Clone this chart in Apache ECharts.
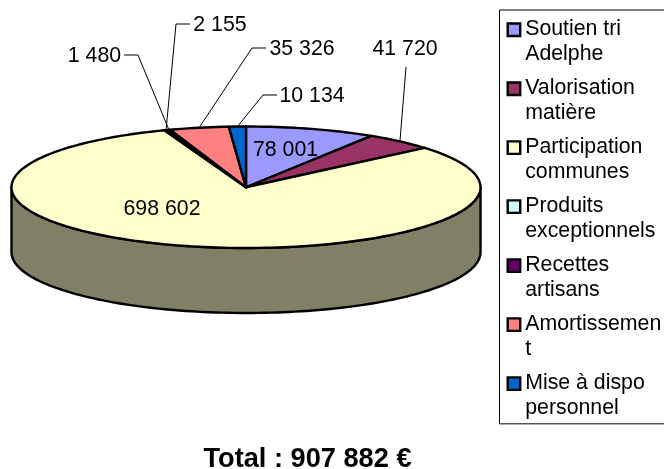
<!DOCTYPE html>
<html>
<head>
<meta charset="utf-8">
<style>html,body{margin:0;padding:0;background:#fff;overflow:hidden}#c{width:664px;height:469px}</style>
<script src="https://cdn.jsdelivr.net/npm/echarts@6/dist/echarts.min.js"></script>
</head>
<body>
<div id="c"></div>
<script>
const categories = ['Soutien tri\nAdelphe','Valorisation\nmatière','Participation\ncommunes','Produits\nexceptionnels','Recettes\nartisans','Amortissemen\nt','Mise à dispo\npersonnel'];
const values = [78001, 41720, 698602, 2155, 1480, 35326, 10134];
const valueLabels = ['78 001','41 720','698 602','2 155','1 480','35 326','10 134'];
const colors = ['#9999FF','#993366','#FFFFCC','#CCFFFF','#660066','#FF8080','#0066CC'];
const sideColors = ['#4D4D80','#4D1A33','#808066','#668080','#330033','#804040','#003366'];
const titleText = 'Total : 907 882 €';

// Label placement (pixels): text centre, optional elbow of the leader line
const labelLayout = [
  {x:285.5, y:150},
  {x:405, y:49,  from:[406,67]},
  {x:162, y:209},
  {x:220, y:25,  from:[190,24], elbow:[176,24]},
  {x:94.5,  y:56,  from:[124,55], elbow:[138,55]},
  {x:302, y:49,  from:[266,48], elbow:[252,48]},
  {x:312, y:96,  from:[277,95], elbow:[263,95]}
];
const DEPTH = 65;      // wall height of the disc, px
const FONT = 'Liberation Sans, Arial, sans-serif';

const total = values.reduce((a,b)=>a+b,0);
let acc = 0;
const spans = values.map(v => { const s = acc; acc += v; return [s/total*360, acc/total*360]; });
const rad = d => d*Math.PI/180;

function rimPoints(api, a0, a1){
  const n = Math.max(2, Math.ceil((a1-a0)/1.5));
  const pts = [];
  for(let i=0;i<=n;i++){
    const a = rad(a0+(a1-a0)*i/n);
    pts.push(api.coord([Math.sin(a), Math.cos(a)]));
  }
  return pts;
}

const series = categories.map((name,i)=>({
  type:'custom',
  name,
  coordinateSystem:'cartesian2d',
  clip:false,
  silent:true,
  itemStyle:{color:colors[i]},
  z: 2,
  data:[[0,0]],
  renderItem:(params,api)=>{
    const [a0,a1] = spans[i];
    const children = [];
    const line = {stroke:'#000', lineWidth:2.4, lineJoin:'round', fill:colors[i]};
    const f0 = Math.max(a0,90), f1 = Math.min(a1,270);
    if(f1>f0){
      const top = rimPoints(api,f0,f1);
      const bottom = top.map(p=>[p[0],p[1]+DEPTH]).reverse();
      children.push({type:'polygon',shape:{points:top.concat(bottom)},
        style:{stroke:'#000',lineWidth:2.4,lineJoin:'round',fill:sideColors[i]}});
    }
    const c = api.coord([0,0]);
    children.push({type:'polygon',shape:{points:[c].concat(rimPoints(api,a0,a1))},style:line});
    return {type:'group',children};
  }
}));

// Leader lines and value labels, anchored on each slice's mid-angle on the rim
series.push({
  type:'custom',
  name:'labels',
  coordinateSystem:'cartesian2d',
  clip:false,
  silent:true,
  z:3,
  data:[[0,0]],
  renderItem:(params,api)=>{
    const children = [];
    values.forEach((v,i)=>{
      const L = labelLayout[i];
      if(L.from){
        const m = rad((spans[i][0]+spans[i][1])/2);
        const rim = api.coord([Math.sin(m), Math.cos(m)]);
        const pts = L.elbow ? [L.from,L.elbow,rim] : [L.from,rim];
        children.push({type:'polyline',shape:{points:pts},style:{stroke:'#000',lineWidth:1,fill:'none'}});
      }
      children.push({type:'text',style:{text:valueLabels[i],x:L.x,y:L.y,align:'center',verticalAlign:'middle',
        font:'21.3px '+FONT,fill:'#000'}});
    });
    return {type:'group',children};
  }
});

const iconPath = 'path://M0 0L0 0M0 6H13V19H0ZM0 50L0 50';
const chart = echarts.init(document.getElementById('c'),null,{renderer:'canvas'});
chart.setOption({
  animation:false,
  backgroundColor:'#fff',
  title:{text:titleText,left:307.5,textAlign:'center',top:444.5,padding:0,
    textStyle:{fontFamily:FONT,fontWeight:'bold',fontSize:27.2,color:'#000',lineHeight:30}},
  grid:{left:11.5,top:126.5,width:469,height:121.5,containLabel:false},
  xAxis:{type:'value',min:-1,max:1,show:false},
  yAxis:{type:'value',min:-1,max:1,show:false},
  legend:{
    orient:'vertical',left:499.5,top:10,
    padding:[6.5,20,3,7],
    itemWidth:12.5,itemHeight:50,itemGap:8.5,
    selectedMode:false,
    borderColor:'#000',borderWidth:1,backgroundColor:'#fff',
    itemStyle:{borderColor:'#000',borderWidth:2.4},
    textStyle:{fontFamily:FONT,fontSize:21.3,lineHeight:25,color:'#000',padding:[0,0,0,0]},
    formatter:n=>n,
    data:categories.map(name=>({name,icon:iconPath}))
  },
  series
});
</script>
</body>
</html>
